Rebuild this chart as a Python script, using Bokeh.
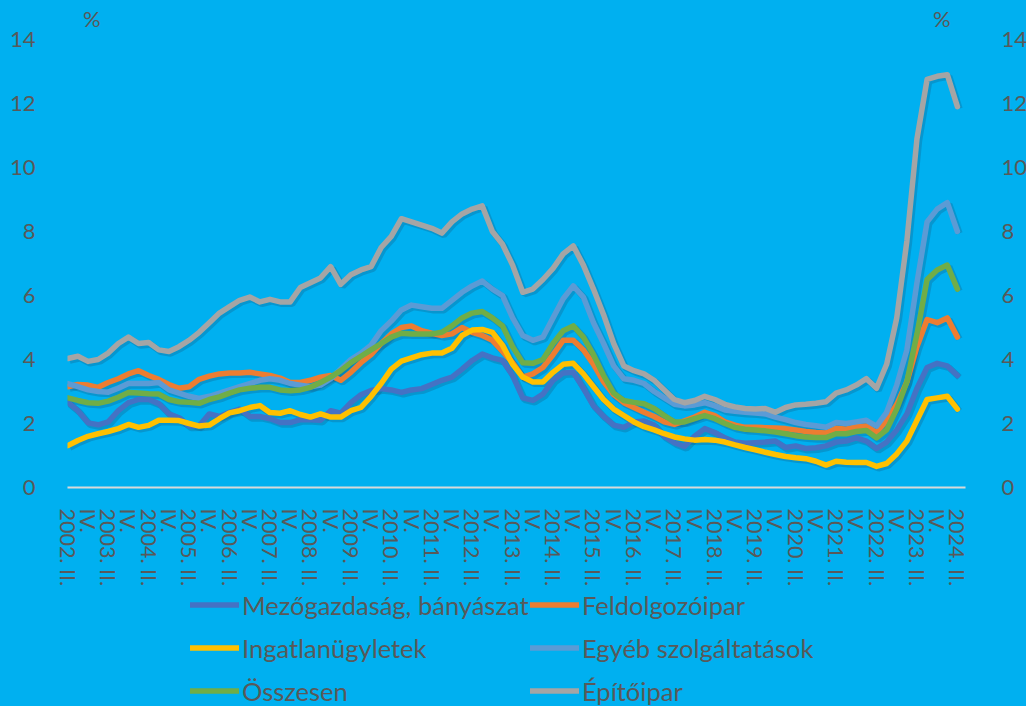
import numpy as np
from bokeh.plotting import figure
from bokeh.layouts import column
from bokeh.models import Range1d, LinearAxis, FixedTicker, Legend, LegendItem, Label
from bokeh.embed import file_html
from bokeh.resources import INLINE

# Quarterly data, 2002 Q2 .. 2024 Q2 (89 quarters), %
tick_labels = [
    "2002. II.", "IV.", "2003. II.", "IV.", "2004. II.", "IV.", "2005. II.", "IV.",
    "2006. II.", "IV.", "2007. II.", "IV.", "2008. II.", "IV.", "2009. II.", "IV.",
    "2010. II.", "IV.", "2011. II.", "IV.", "2012. II.", "IV.", "2013. II.", "IV.",
    "2014. II.", "IV.", "2015. II.", "IV.", "2016. II.", "IV.", "2017. II.", "IV.",
    "2018. II.", "IV.", "2019. II.", "IV.", "2020. II.", "IV.", "2021. II.", "IV.",
    "2022. II.", "IV.", "2023. II.", "IV.", "2024. II.",
]

mezogazdasag = [
    2.66, 2.40, 2.02, 1.96, 2.05, 2.40, 2.65, 2.75, 2.75, 2.62,
    2.30, 2.18, 1.92, 1.93, 2.30, 2.22, 2.35, 2.45, 2.22, 2.22,
    2.15, 2.03, 2.03, 2.12, 2.12, 2.10, 2.40, 2.32, 2.65, 2.90,
    3.03, 3.09, 3.05, 2.97, 3.05, 3.09, 3.22, 3.35, 3.45, 3.70,
    3.97, 4.17, 4.05, 3.97, 3.50, 2.80, 2.72, 2.92, 3.35, 3.58,
    3.60, 3.10, 2.55, 2.22, 1.95, 1.88, 2.05, 2.08, 1.95, 1.60,
    1.40, 1.28, 1.60, 1.84, 1.72, 1.55, 1.42, 1.38, 1.40, 1.42,
    1.45, 1.25, 1.30, 1.22, 1.24, 1.30, 1.42, 1.45, 1.55, 1.45,
    1.22, 1.42, 1.80, 2.30, 3.10, 3.75, 3.88, 3.80, 3.50,
]
feldolgozoipar = [
    3.15, 3.22, 3.20, 3.13, 3.28, 3.40, 3.55, 3.65, 3.50, 3.38,
    3.22, 3.10, 3.15, 3.38, 3.48, 3.55, 3.58, 3.58, 3.60, 3.55,
    3.50, 3.42, 3.28, 3.28, 3.35, 3.45, 3.50, 3.35, 3.60, 3.90,
    4.15, 4.50, 4.80, 5.00, 5.05, 4.90, 4.82, 4.75, 4.80, 5.00,
    4.85, 4.75, 4.60, 4.25, 3.90, 3.45, 3.55, 3.75, 4.15, 4.60,
    4.60, 4.30, 3.85, 3.30, 2.90, 2.65, 2.50, 2.35, 2.22, 2.05,
    1.97, 2.08, 2.20, 2.35, 2.25, 2.05, 1.95, 1.88, 1.88, 1.87,
    1.86, 1.84, 1.80, 1.75, 1.72, 1.70, 1.85, 1.82, 1.90, 1.92,
    1.72, 2.10, 2.60, 3.30, 4.40, 5.25, 5.15, 5.30, 4.70,
]
ingatlanugyletek = [
    1.31, 1.47, 1.60, 1.68, 1.75, 1.84, 1.97, 1.88, 1.94, 2.10,
    2.10, 2.09, 2.00, 1.92, 1.95, 2.15, 2.33, 2.40, 2.50, 2.56,
    2.34, 2.32, 2.40, 2.28, 2.20, 2.30, 2.20, 2.20, 2.40, 2.50,
    2.85, 3.25, 3.70, 3.95, 4.05, 4.15, 4.20, 4.20, 4.35, 4.75,
    4.92, 4.94, 4.85, 4.45, 3.85, 3.45, 3.30, 3.30, 3.60, 3.85,
    3.88, 3.55, 3.15, 2.75, 2.45, 2.25, 2.05, 1.90, 1.80, 1.68,
    1.58, 1.52, 1.48, 1.50, 1.48, 1.42, 1.33, 1.25, 1.18, 1.10,
    1.03, 0.97, 0.93, 0.90, 0.82, 0.70, 0.82, 0.79, 0.78, 0.78,
    0.66, 0.75, 1.05, 1.45, 2.10, 2.75, 2.80, 2.85, 2.45,
]
egyeb_szolg = [
    3.25, 3.15, 3.05, 3.00, 2.98, 3.10, 3.25, 3.25, 3.25, 3.28,
    3.05, 2.95, 2.85, 2.78, 2.85, 2.95, 3.05, 3.15, 3.25, 3.35,
    3.40, 3.35, 3.25, 3.20, 3.15, 3.20, 3.40, 3.70, 4.00, 4.20,
    4.45, 4.90, 5.20, 5.55, 5.70, 5.65, 5.60, 5.60, 5.85, 6.10,
    6.30, 6.45, 6.20, 6.00, 5.30, 4.75, 4.60, 4.70, 5.30, 5.90,
    6.30, 5.95, 5.15, 4.50, 3.80, 3.40, 3.35, 3.25, 3.00, 2.80,
    2.60, 2.55, 2.58, 2.65, 2.55, 2.42, 2.38, 2.35, 2.33, 2.30,
    2.20, 2.12, 2.03, 1.97, 1.93, 1.88, 2.03, 2.00, 2.05, 2.10,
    1.92, 2.35, 3.20, 4.30, 6.40, 8.30, 8.70, 8.90, 8.00,
]
osszesen = [
    2.80, 2.72, 2.65, 2.63, 2.70, 2.82, 2.97, 2.95, 2.93, 2.92,
    2.75, 2.68, 2.66, 2.63, 2.75, 2.83, 2.95, 3.05, 3.10, 3.13,
    3.13, 3.05, 3.02, 3.05, 3.13, 3.28, 3.45, 3.65, 3.90, 4.10,
    4.30, 4.50, 4.70, 4.82, 4.80, 4.80, 4.80, 4.85, 5.05, 5.30,
    5.45, 5.50, 5.30, 5.05, 4.40, 3.90, 3.88, 4.00, 4.50, 4.90,
    5.05, 4.70, 4.15, 3.50, 2.95, 2.72, 2.66, 2.62, 2.47, 2.25,
    2.05, 2.05, 2.15, 2.25, 2.15, 2.00, 1.88, 1.82, 1.80, 1.77,
    1.73, 1.68, 1.62, 1.58, 1.56, 1.56, 1.68, 1.68, 1.75, 1.78,
    1.55, 1.80, 2.45, 3.30, 4.80, 6.50, 6.80, 6.95, 6.20,
]
epitoipar = [
    4.03, 4.10, 3.94, 4.00, 4.20, 4.50, 4.70, 4.50, 4.53, 4.30,
    4.25, 4.40, 4.60, 4.85, 5.15, 5.45, 5.65, 5.85, 5.95, 5.80,
    5.88, 5.80, 5.80, 6.25, 6.40, 6.55, 6.90, 6.35, 6.65, 6.80,
    6.90, 7.50, 7.85, 8.40, 8.30, 8.20, 8.10, 7.95, 8.30, 8.55,
    8.70, 8.80, 8.00, 7.60, 6.95, 6.10, 6.20, 6.50, 6.85, 7.30,
    7.55, 6.95, 6.20, 5.40, 4.50, 3.80, 3.65, 3.55, 3.35, 3.05,
    2.75, 2.65, 2.72, 2.85, 2.75, 2.60, 2.52, 2.47, 2.45, 2.47,
    2.35, 2.50, 2.58, 2.60, 2.63, 2.68, 2.95, 3.05, 3.20, 3.40,
    3.10, 3.85, 5.30, 7.70, 10.90, 12.75, 12.85, 12.90, 11.90,
]

series = [
    ("Mezőgazdaság, bányászat", mezogazdasag, "#4472C4"),
    ("Feldolgozóipar", feldolgozoipar, "#ED7D31"),
    ("Ingatlanügyletek", ingatlanugyletek, "#FFC000"),
    ("Egyéb szolgáltatások", egyeb_szolg, "#5B9BD5"),
    ("Összesen", osszesen, "#70AD47"),
    ("Építőipar", epitoipar, "#A5A5A5"),
]
y_ticks = [0, 2, 4, 6, 8, 10, 12, 14]

BG = "#00B0F0"
TXT = "#595959"
FONT = "Lato"
FS = "22px"
XFS = "21.5px"
LFS = "25.5px"
LW = 5.5

x = np.arange(len(epitoipar))

# ---------------- main chart ----------------
p = figure(frame_width=898, frame_height=481, output_backend="svg", toolbar_location=None,
           x_range=Range1d(-0.03, 88.8), y_range=Range1d(0, 15.031),
           min_border_left=67, min_border_right=61, min_border_top=6, min_border_bottom=102)
p.background_fill_color = None
p.border_fill_color = BG
p.outline_line_color = None
p.xgrid.visible = False
p.ygrid.visible = False

# subtle drop shadows under the lines
for name, vals, col in series:
    p.line(x + 0.2, np.array(vals) - 0.06, line_color="#1a3a5a", line_alpha=0.22, line_width=LW + 1)

for name, vals, col in series:
    p.line(x, vals, line_color=col, line_width=LW, line_join="round", line_cap="round")

xa = p.xaxis[0]
xa.ticker = FixedTicker(ticks=list(range(0, 89, 2)))
xa.major_label_overrides = {i * 2: lab for i, lab in enumerate(tick_labels)}
xa.major_label_orientation = "vertical"
xa.axis_line_color = "#D9D9D9"
xa.axis_line_width = 2
xa.major_tick_line_color = None
xa.minor_tick_line_color = None
xa.major_label_standoff = 15
xa.major_label_text_color = TXT
xa.major_label_text_font = FONT
xa.major_label_text_font_size = XFS

ya = p.yaxis[0]
ya.ticker = FixedTicker(ticks=y_ticks)
ya.axis_line_color = None
ya.major_tick_line_color = None
ya.minor_tick_line_color = None
ya.major_label_standoff = 26
ya.major_label_text_color = TXT
ya.major_label_text_font = FONT
ya.major_label_text_font_size = FS

ra = LinearAxis(ticker=FixedTicker(ticks=y_ticks))
ra.axis_line_color = None
ra.major_tick_line_color = None
ra.minor_tick_line_color = None
ra.major_label_standoff = 30
ra.major_label_text_color = TXT
ra.major_label_text_font = FONT
ra.major_label_text_font_size = FS
p.add_layout(ra, "right")

for xx in (2.37, 86.45):
    p.add_layout(Label(x=xx, y=14.66, text="%", text_color=TXT, text_font=FONT,
                       text_font_size=FS, text_align="center", text_baseline="middle"))

# ---------------- legend strip ----------------
pl = figure(width=1026, height=117, output_backend="svg", toolbar_location=None,
            x_axis_type=None, y_axis_type=None, x_range=Range1d(0, 1), y_range=Range1d(-100, -99),
            min_border_left=0, min_border_right=0, min_border_top=0, min_border_bottom=0)
pl.background_fill_color = None
pl.border_fill_color = BG
pl.outline_line_color = None
pl.xgrid.visible = False
pl.ygrid.visible = False

leg_items = []
for name, vals, col in series:
    # same series drawn out of view, only to feed the legend glyphs
    r = pl.line(x, vals, line_color=col, line_width=LW, line_cap="round")
    leg_items.append(LegendItem(label=name, renderers=[r]))


def make_legend(items, xpos):
    lg = Legend(items=items, orientation="vertical", location=(xpos, 0))
    lg.background_fill_alpha = 0
    lg.border_line_color = None
    lg.margin = 0
    lg.padding = 0
    lg.spacing = 12
    lg.label_standoff = 3
    lg.glyph_width = 49
    lg.glyph_height = 31
    lg.label_height = 31
    lg.label_text_color = TXT
    lg.label_text_font = FONT
    lg.label_text_font_size = LFS
    return lg


pl.add_layout(make_legend(leg_items[0::2], 123))
pl.add_layout(make_legend(leg_items[1::2], 463))

layout = column(p, pl, spacing=0)
layout.background = BG

open("out.html", "w").write(file_html(layout, INLINE))
